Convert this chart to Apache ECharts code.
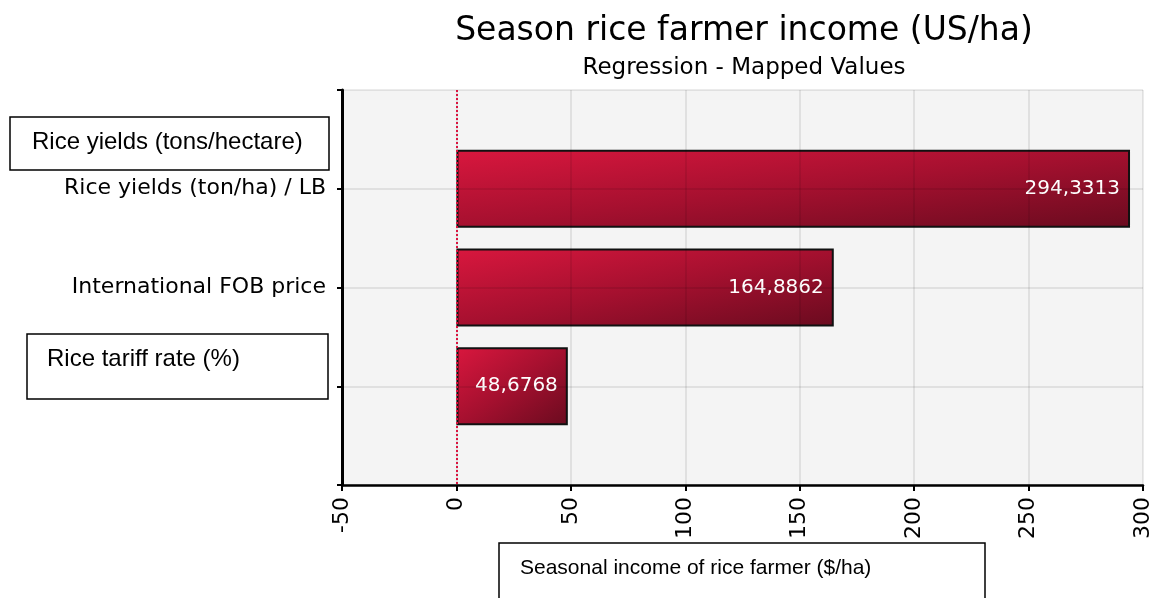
<!DOCTYPE html>
<html>
<head>
<meta charset="utf-8">
<style>
  html, body { margin: 0; padding: 0; background: #fff; }
  #chart { width: 1155px; height: 598px; }
</style>
<script src="https://cdn.jsdelivr.net/npm/echarts@6/dist/echarts.min.js"></script>
</head>
<body>
<div id="chart"></div>
<script>
  // categories (top to bottom), empty slots pad the band above and below
  var categories = ['', 'Rice yields (ton/ha) / LB', 'International FOB price', 'Rice tariff rate (%)', '']
  var values = ['-', 294.3313, 164.8862, 48.6768, '-']
  // labels drawn inside boxes instead of on the axis
  var hiddenLabels = ['Rice tariff rate (%)']
  var xMin = -50
  var xMax = 300
  var xStep = 50
  var barH = 78

  // gradient running corner to corner of each bar (like a bounding-box gradient)
  function barColor (w, h) {
    var d = h * h + w * w
    return new echarts.graphic.LinearGradient(0, 0, 2 * h * h / d, 2 * w * w / d, [
      { offset: 0, color: '#d9173e' },
      { offset: 0.5, color: '#a5102f' },
      { offset: 1, color: '#6a0b1f' }
    ])
  }

  var chart = echarts.init(document.getElementById('chart'))
  var option = {
    backgroundColor: '#fff',
    animation: false,
    grid: {
      left: 342,
      right: 12,
      top: 90,
      bottom: 113,
      show: true,
      backgroundColor: '#f4f4f4',
      borderWidth: 0
    },
    xAxis: {
      type: 'value',
      z: 4,
      min: xMin,
      max: xMax,
      interval: xStep,
      axisLine: { show: true, onZero: false, lineStyle: { color: '#000', width: 2.5 } },
      axisTick: { show: true, length: 6, lineStyle: { color: '#000', width: 2 } },
      axisLabel: {
        rotate: 90,
        margin: 12,
        color: '#000',
        fontSize: 22,
        fontFamily: 'DejaVu Sans'
      },
      splitLine: { show: true, lineStyle: { color: 'rgba(0,0,0,0.08)', width: 2 } }
    },
    yAxis: {
      type: 'category',
      z: 4,
      data: categories,
      inverse: true,
      boundaryGap: false,
      axisLine: { show: true, onZero: false, lineStyle: { color: '#000', width: 3 } },
      axisTick: { show: true, interval: 0, length: 5, lineStyle: { color: '#000', width: 2 } },
      axisLabel: {
        interval: 0,
        margin: 16,
        color: '#000',
        fontSize: 22,
        fontFamily: 'DejaVu Sans',
        formatter: function (v) {
          return hiddenLabels.indexOf(v) >= 0 ? '' : v
        }
      },
      splitLine: { show: true, interval: 0, lineStyle: { color: 'rgba(0,0,0,0.08)', width: 2 } }
    },
    series: [{
      type: 'bar',
      z: 2,
      data: values,
      barWidth: barH,
      itemStyle: {
        borderColor: '#111',
        borderWidth: 2,
        color: '#a5102f'
      },
      label: {
        show: true,
        position: 'insideRight',
        distance: 10,
        color: '#fff',
        fontSize: 20,
        fontFamily: 'DejaVu Sans',
        formatter: function (p) {
          return p.value.toFixed(4).replace('.', ',')
        }
      },
      markLine: {
        silent: true,
        symbol: 'none',
        label: { show: false },
        lineStyle: { type: 'dotted', color: '#da1540', width: 2 },
        data: [{ xAxis: 0 }]
      }
    }],
    graphic: [
      {
        type: 'text', x: 744, y: 31, z: 100,
        style: { text: 'Season rice farmer income (US/ha)', font: '33px "DejaVu Sans"', fill: '#000', align: 'center', verticalAlign: 'middle' }
      },
      {
        type: 'text', x: 744, y: 68, z: 100,
        style: { text: 'Regression - Mapped Values', font: '23px "DejaVu Sans"', fill: '#000', align: 'center', verticalAlign: 'middle' }
      },
      {
        type: 'rect', z: 100,
        shape: { x: 10, y: 117, width: 319, height: 53 },
        style: { fill: '#fff', stroke: '#000', lineWidth: 1.5 }
      },
      {
        type: 'text', x: 32, y: 142, z: 101,
        style: { text: 'Rice yields (tons/hectare)', font: '24px "Liberation Sans"', fill: '#000', verticalAlign: 'middle' }
      },
      {
        type: 'rect', z: 100,
        shape: { x: 27, y: 334, width: 301, height: 65 },
        style: { fill: '#fff', stroke: '#000', lineWidth: 1.5 }
      },
      {
        type: 'text', x: 47, y: 359, z: 101,
        style: { text: 'Rice tariff rate (%)', font: '24px "Liberation Sans"', fill: '#000', verticalAlign: 'middle' }
      },
      {
        type: 'rect', z: 100,
        shape: { x: 499, y: 543, width: 486, height: 70 },
        style: { fill: '#fff', stroke: '#000', lineWidth: 1.5 }
      },
      {
        type: 'text', x: 520, y: 568, z: 101,
        style: { text: 'Seasonal income of rice farmer ($/ha)', font: '21px "Liberation Sans"', fill: '#000', verticalAlign: 'middle' }
      }
    ]
  }
  chart.setOption(option, true)

  // per-bar gradients sized from the axis scale
  var x0 = chart.convertToPixel({ xAxisIndex: 0 }, 0)
  var styled = values.map(function (v) {
    if (v === '-') return v
    var w = chart.convertToPixel({ xAxisIndex: 0 }, v) - x0
    return { value: v, itemStyle: { color: barColor(w, barH) } }
  })
  chart.setOption({ series: [{ data: styled }] })
  window.onresize = chart.resize
</script>
</body>
</html>
